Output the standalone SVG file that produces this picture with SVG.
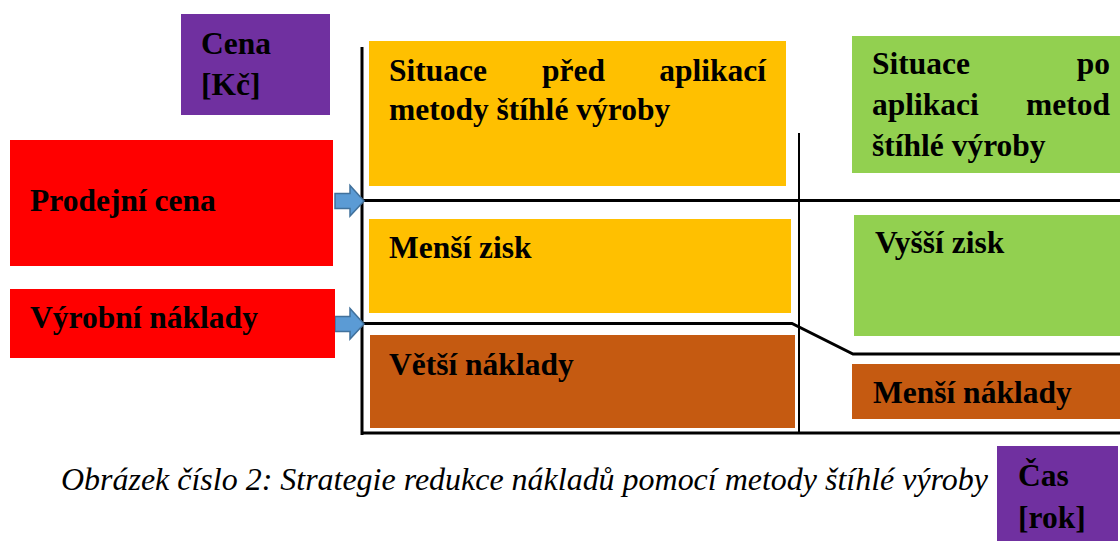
<svg xmlns="http://www.w3.org/2000/svg" width="1120" height="541" viewBox="0 0 1120 541">
<style>
.t{font-family:'Liberation Serif','Times New Roman',serif;font-weight:bold;font-size:31.5px;fill:#000}
.cap{font-family:'Liberation Serif','Times New Roman',serif;font-style:italic;font-size:31.5px;fill:#000}
.purple{fill:#7030A0}
.red{fill:#FF0000}
.orange{fill:#FFC000}
.brown{fill:#C55A11}
.green{fill:#92D050}
.ax{stroke:#000;stroke-width:3;fill:none}
.arr{fill:#5B9BD5;stroke:#41719C;stroke-width:1.5}
</style>
<rect width="1120" height="541" fill="#fff"/>
<g id="connectors">
<line class="ax" x1="362" y1="47" x2="362" y2="435"/>
<line class="ax" x1="362" y1="433" x2="1120" y2="433"/>
<line x1="799" y1="133" x2="799" y2="433" stroke="#000" stroke-width="2"/>
<line class="ax" x1="362" y1="200.5" x2="1120" y2="200.5"/>
<polyline class="ax" points="362,323.5 792,323.5 853,354 1120,354"/>
<path class="arr" d="M335,193.5 H350 V185.5 L364,201 L350,216 V208.5 H335 Z"/>
<path class="arr" d="M335,316.5 H350 V308.5 L364,324 L350,339 V331.5 H335 Z"/>
</g>
<g id="cena">
<rect class="purple" x="181" y="14" width="149" height="101"/>
<text class="t" font-family="Liberation Serif" x="201" y="54">Cena</text>
<text class="t" font-family="Liberation Serif" x="201" y="95">[Kč]</text>
</g>
<g id="prodejni-cena">
<rect class="red" x="10" y="140" width="323" height="126"/>
<text class="t" font-family="Liberation Serif" x="30" y="211">Prodejní cena</text>
</g>
<g id="vyrobni-naklady">
<rect class="red" x="10" y="289" width="325" height="69"/>
<text class="t" font-family="Liberation Serif" x="30" y="328">Výrobní náklady</text>
</g>
<g id="situace-pred">
<rect class="orange" x="369" y="41" width="417" height="145"/>
<text class="t" font-family="Liberation Serif" x="389" y="81">Situace</text>
<text class="t" font-family="Liberation Serif" x="542" y="81">před</text>
<text class="t" font-family="Liberation Serif" x="766" y="81" text-anchor="end">aplikací</text>
<text class="t" font-family="Liberation Serif" x="389" y="120">metody štíhlé výroby</text>
</g>
<g id="mensi-zisk">
<rect class="orange" x="369" y="219" width="422" height="94"/>
<text class="t" font-family="Liberation Serif" x="389" y="258">Menší zisk</text>
</g>
<g id="vetsi-naklady">
<rect class="brown" x="370" y="335" width="425" height="93"/>
<text class="t" font-family="Liberation Serif" x="389" y="375">Větší náklady</text>
</g>
<g id="situace-po">
<rect class="green" x="852" y="36" width="268" height="137"/>
<text class="t" font-family="Liberation Serif" x="872" y="74">Situace</text>
<text class="t" font-family="Liberation Serif" x="1110" y="74" text-anchor="end">po</text>
<text class="t" font-family="Liberation Serif" x="872" y="115">aplikaci</text>
<text class="t" font-family="Liberation Serif" x="1110" y="115" text-anchor="end">metod</text>
<text class="t" font-family="Liberation Serif" x="872" y="156">štíhlé výroby</text>
</g>
<g id="vyssi-zisk">
<rect class="green" x="854" y="215" width="266" height="121"/>
<text class="t" font-family="Liberation Serif" x="875" y="253">Vyšší zisk</text>
</g>
<g id="mensi-naklady">
<rect class="brown" x="852" y="364" width="268" height="55"/>
<text class="t" font-family="Liberation Serif" x="873" y="403">Menší náklady</text>
</g>
<g id="caption">
<text class="cap" font-family="Liberation Serif" x="61" y="490" textLength="927" lengthAdjust="spacingAndGlyphs">Obrázek číslo 2: Strategie redukce nákladů pomocí metody štíhlé výroby</text>
</g>
<g id="cas">
<rect class="purple" x="997" y="446" width="121" height="95"/>
<text class="t" font-family="Liberation Serif" x="1018" y="486">Čas</text>
<text class="t" font-family="Liberation Serif" x="1018" y="528">[rok]</text>
</g>
</svg>
